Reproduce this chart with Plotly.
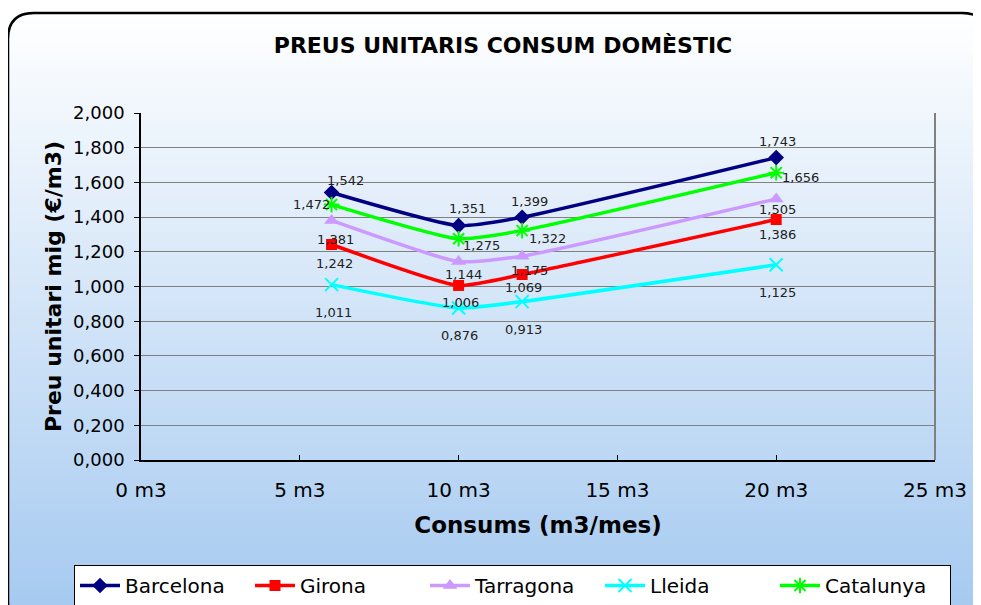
import plotly.graph_objects as go

# ---- data ----
consum = [6, 10, 12, 20]
barcelona = [1.542, 1.351, 1.399, 1.743]
girona = [1.242, 1.006, 1.069, 1.386]
tarragona = [1.381, 1.144, 1.175, 1.505]
lleida = [1.011, 0.876, 0.913, 1.125]
catalunya = [1.472, 1.275, 1.322, 1.656]
series_names = ["Barcelona", "Girona", "Tarragona", "Lleida", "Catalunya"]
x_ticks = [0, 5, 10, 15, 20, 25]
x_tick_labels = ["0 m3", "5 m3", "10 m3", "15 m3", "20 m3", "25 m3"]
y_ticks = [0, 0.2, 0.4, 0.6, 0.8, 1.0, 1.2, 1.4, 1.6, 1.8, 2.0]

# ---- styling ----
W, H = 981, 605
OFF = 8  # page body margin
ML, MR, MT, MB = 133, 54, 105, 153
PW, PH = W - ML - MR, H - MT - MB

def px(x):  # page pixel x -> paper
    return (x - OFF - ML) / PW

def py(y):  # page pixel y -> paper
    return (H - MB - (y - OFF)) / PH

styles = {
    "Barcelona": dict(color="#000080", symbol="diamond", size=12, lw=0),
    "Girona": dict(color="#FF0000", symbol="square", size=11, lw=0),
    "Tarragona": dict(color="#CC99FF", symbol="triangle-up", size=13, lw=0),
    "Lleida": dict(color="#00FFFF", symbol="x-thin-open", size=13, lw=2),
    "Catalunya": dict(color="#00FF00", symbol="asterisk-open", size=13, lw=2),
}
# label offsets (xshift, yshift) in px per point
offsets = {
    "Barcelona": [(14, 12), (9, 17), (7, 16), (1, 16)],
    "Girona": [(3, -19), (2, -17), (1, -13), (1, -15)],
    "Tarragona": [(4, -19), (5, -13), (7, -14), (1, -11)],
    "Lleida": [(2, -28), (1, -27), (1, -28), (1, -28)],
    "Catalunya": [(-20, 0), (23, -7), (25, -8), (24, -5)],
}

values = [barcelona, girona, tarragona, lleida, catalunya]

fig = go.Figure()
annotations = []
for name, vals in zip(series_names, values):
    s = styles[name]
    marker = dict(symbol=s["symbol"], size=s["size"], color=s["color"])
    if s["lw"]:
        marker["line"] = dict(color=s["color"], width=s["lw"])
    fig.add_trace(go.Scatter(
        x=consum, y=vals, name=name, mode="lines+markers",
        line=dict(color=s["color"], width=3.5, shape="spline", smoothing=0.5),
        marker=marker,
    ))
    for (xv, yv), (dx, dy) in zip(zip(consum, vals), offsets[name]):
        annotations.append(dict(
            x=xv, y=yv, xref="x", yref="y", text=f"{yv:.3f}".replace(".", ","),
            showarrow=False, xshift=dx, yshift=dy,
            font=dict(family="DejaVu Sans", size=13, color="#222222"),
        ))

# background gradient (paper) made of thin bands
shapes = []
top_px, bot_px = 13, 620
n = 80
c0 = (255, 255, 255)
c1 = (164, 201, 240)
for i in range(n):
    y0 = top_px + (bot_px - top_px) * i / n
    y1 = top_px + (bot_px - top_px) * (i + 1) / n
    t = (i + 0.5) / n
    col = tuple(round(a + (b - a) * t) for a, b in zip(c0, c1))
    shapes.append(dict(
        type="rect", xref="paper", yref="paper", layer="below",
        x0=px(8), x1=px(1000), y0=py(y0 - 0.5), y1=py(y1 + 0.5),
        fillcolor=f"rgb{col}", line=dict(width=0),
    ))

# rounded frame
r = 26
L, T, R, B = 8, 13, 988, 628
path = (
    f"M {px(L)},{py(B - r)} L {px(L)},{py(T + r)} "
    f"Q {px(L)},{py(T)} {px(L + r)},{py(T)} "
    f"L {px(R - r)},{py(T)} Q {px(R)},{py(T)} {px(R)},{py(T + r)} "
    f"L {px(R)},{py(B - r)} Q {px(R)},{py(B)} {px(R - r)},{py(B)} "
    f"L {px(L + r)},{py(B)} Q {px(L)},{py(B)} {px(L)},{py(B - r)} Z"
)
shapes.append(dict(type="path", path=path, xref="paper", yref="paper",
                   layer="below", line=dict(color="black", width=2.5)))
# right border of plot area
shapes.append(dict(type="line", xref="paper", yref="paper", x0=1, x1=1, y0=0, y1=1,
                   layer="above", line=dict(color="#808080", width=2)))

fig.update_layout(
    width=W, height=H,
    margin=dict(l=ML, r=MR, t=MT, b=MB, autoexpand=False),
    paper_bgcolor="white",
    plot_bgcolor="white",
    separators=",.",
    title=dict(text="<b>PREUS UNITARIS CONSUM DOMÈSTIC</b>",
               x=(503 - OFF) / W, xanchor="center", y=1 - (45 - OFF) / H, yanchor="middle",
               font=dict(family="DejaVu Sans", size=22, color="black")),
    xaxis=dict(range=[0, 25], tickvals=x_ticks, ticktext=x_tick_labels,
               showgrid=False, zeroline=False,
               showline=True, linecolor="black", linewidth=1.5,
               ticks="inside", ticklen=5, tickcolor="black", ticklabelstandoff=11,
               tickfont=dict(family="DejaVu Sans", size=20, color="black"),
               title=dict(text="<b>Consums (m3/mes)</b>", standoff=16,
                          font=dict(family="DejaVu Sans", size=23, color="black"))),
    yaxis=dict(range=[0, 2.0], tickvals=y_ticks, tickformat=".3f",
               showgrid=True, gridcolor="#808080", gridwidth=1, zeroline=False,
               showline=True, linecolor="black", linewidth=1.5,
               ticks="outside", ticklen=5, tickcolor="black", ticklabelstandoff=6,
               tickfont=dict(family="DejaVu Sans", size=18, color="black"),
               title=dict(text="<b>Preu unitari mig (€/m3)</b>", standoff=5,
                          font=dict(family="DejaVu Sans", size=22, color="black"))),
    legend=dict(orientation="h", x=px(74), xref="paper", xanchor="left",
                y=py(565), yanchor="top",
                bgcolor="white", bordercolor="black", borderwidth=1,
                font=dict(family="DejaVu Sans", size=20, color="black"),
                itemwidth=40, entrywidth=120, tracegroupgap=0),
    shapes=shapes,
    annotations=annotations,
    showlegend=True,
)

fig.write_html("out.html")
